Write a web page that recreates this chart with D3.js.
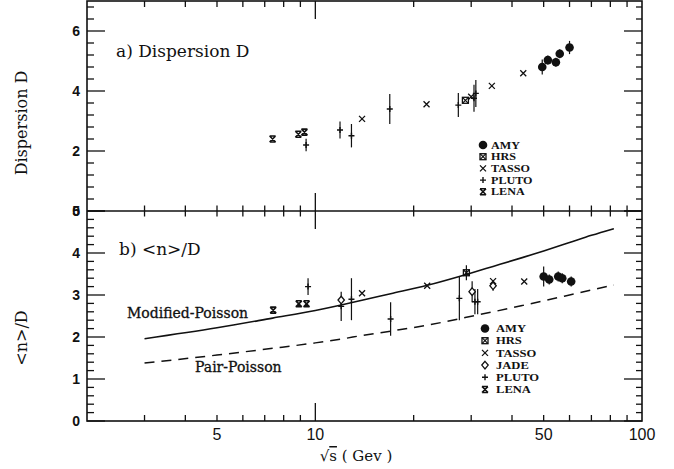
<!DOCTYPE html>
<html><head><meta charset="utf-8">
<script src="https://cdn.jsdelivr.net/npm/d3@7"></script>
<style>body{margin:0;background:#fff} svg{display:block}</style>
</head><body>
<svg id="chart" width="674" height="469"></svg>
<script>
// Each entry: [sqrt(s) in GeV, value, error]
// Panel a: dispersion D
const dispLENA  = [[7.4,2.40,0],[8.87,2.56,0],[9.26,2.63,0]];
const dispPLUTO = [[9.37,2.20,0.21],[11.9,2.70,0.28],[12.9,2.51,0.39],[16.9,3.40,0.50],[27.4,3.53,0.40],[30.6,3.76,0.45],[31.0,3.92,0.45]];
const dispTASSO = [[13.9,3.07,0],[21.9,3.56,0],[30.0,3.81,0],[34.7,4.17,0],[43.3,4.59,0]];
const dispHRS   = [[28.8,3.69,0]];
const dispAMY   = [[49.5,4.80,0.25],[51.5,5.03,0.15],[54.5,4.96,0.15],[56.0,5.24,0.15],[60.0,5.45,0.22]];

// Panel b: <n>/D
const ratioLENA  = [[7.43,2.64,0],[8.9,2.79,0],[9.4,2.79,0]];
const ratioPLUTO = [[9.5,3.20,0.20],[12.0,2.73,0.35],[12.9,2.90,0.50],[17.0,2.43,0.40],[27.6,2.92,0.52],[30.8,2.84,0.30],[31.4,2.84,0.30]];
const ratioJADE  = [[12.0,2.88,0],[30.2,3.08,0.25],[35.0,3.22,0.12]];
const ratioTASSO = [[13.9,3.04,0],[22.0,3.22,0],[35.0,3.33,0],[43.6,3.32,0]];
const ratioHRS   = [[29.0,3.53,0.18]];
const ratioAMY   = [[50,3.44,0.24],[52,3.37,0.12],[55.4,3.44,0.12],[57,3.40,0.12],[60.7,3.32,0.12]];

// Model curves for <n>/D: [sqrt(s), value]
const modifiedPoisson = [[3,1.96],[5,2.22],[7.4,2.45],[10,2.63],[12,2.76],[14,2.88],[17,3.03],[22,3.23],[29,3.49],[35,3.68],[43,3.89],[50,4.05],[60,4.25],[70,4.42],[82,4.58]];
const pairPoisson     = [[3,1.38],[5,1.57],[7.4,1.73],[10,1.86],[12,1.95],[14,2.04],[17,2.14],[22,2.28],[29,2.47],[35,2.60],[43,2.75],[50,2.86],[60,3.00],[70,3.12],[82,3.24]];

// Axis ticks and labels
const energyTicks  = [3,4,5,6,7,8,9,10,20,30,40,50,60,70,80,90];
const energyLabels = [5,10,50,100];
const dispLabels   = [0,2,4,6];
const ratioLabels  = [0,1,2,3,4,5];
const legendA = ["AMY","HRS","TASSO","PLUTO","LENA"];
const legendB = ["AMY","HRS","TASSO","JADE","PLUTO","LENA"];

const svg = d3.select("#chart");
const x  = d3.scaleLog().domain([2,100]).range([87,642]);
const yA = d3.scaleLinear().domain([0,7]).range([211,1]);
const yB = d3.scaleLinear().domain([0,5]).range([421,211]);
const ink = "#111";

// Frame
const frame = svg.append("g").attr("stroke", ink).attr("stroke-width", 1.6).attr("fill","none");
frame.append("rect").attr("x", x(2)).attr("y", yA(7)).attr("width", x(100)-x(2)).attr("height", yB(0)-yA(7));
frame.append("line").attr("x1", x(2)).attr("x2", x(100)).attr("y1", yA(0)).attr("y2", yA(0));

// Energy ticks: top edge, shared middle axis, bottom edge
const ticks = svg.append("g").attr("stroke", ink).attr("stroke-width", 1.3);
energyTicks.forEach(e => {
  const big = e === 10;
  const xx = x(e);
  ticks.append("line").attr("x1",xx).attr("x2",xx).attr("y1",yA(7)).attr("y2",yA(7)+(big?18:6));
  ticks.append("line").attr("x1",xx).attr("x2",xx).attr("y1",yA(0)-(big?18:5.5)).attr("y2",yA(0)+(big?18:5.5));
  ticks.append("line").attr("x1",xx).attr("x2",xx).attr("y1",yB(0)).attr("y2",yB(0)-(big?18:6));
});

// Vertical ticks on both sides
function vTicks(scale, maxV, majorStep, minorStep) {
  const n = Math.round(maxV/minorStep);
  for (let i = 0; i <= n; i++) {
    const v = i*minorStep;
    const major = Math.abs(v/majorStep - Math.round(v/majorStep)) < 1e-6;
    const yy = scale(v);
    ticks.append("line").attr("x1",x(2)).attr("x2",x(2)+(major?18:7)).attr("y1",yy).attr("y2",yy);
    ticks.append("line").attr("x1",x(100)).attr("x2",x(100)-(major?18:6)).attr("y1",yy).attr("y2",yy);
  }
}
vTicks(yA, 7, 2, 0.4);
vTicks(yB, 5, 1, 0.2);

// Tick labels
const tl = svg.append("g").attr("font-family","Liberation Sans, Arial, sans-serif").attr("fill", ink);
tl.selectAll(".la").data(dispLabels).join("text")
  .attr("x", 80).attr("y", d => yA(d)+5).attr("text-anchor","end")
  .attr("font-size", 14).attr("font-weight","bold").text(d => d);
tl.selectAll(".lb").data(ratioLabels).join("text")
  .attr("x", 80).attr("y", d => yB(d)+5).attr("text-anchor","end")
  .attr("font-size", 14).attr("font-weight","bold").text(d => d);
tl.selectAll(".lx").data(energyLabels).join("text")
  .attr("x", d => x(d)).attr("y", 440).attr("text-anchor","middle")
  .attr("font-size", 16).text(d => d);

// Axis titles
const serif = "DejaVu Serif, serif";
svg.append("text").attr("transform","translate(27,123) rotate(-90)").attr("text-anchor","middle")
  .attr("font-family", serif).attr("font-size", 16).attr("fill", ink).text("Dispersion D");
svg.append("text").attr("transform","translate(27,338) rotate(-90)").attr("text-anchor","middle")
  .attr("font-family", serif).attr("font-size", 16).attr("fill", ink).text("<n>/D");
const xt = svg.append("text").attr("x", 356).attr("y", 461).attr("text-anchor","middle")
  .attr("font-family", serif).attr("font-size", 15).attr("fill", ink);
xt.append("tspan").text("√");
xt.append("tspan").attr("text-decoration","overline").text("s");
xt.append("tspan").text(" ( Gev )");

// Panel titles
svg.append("text").attr("x",116).attr("y",57).attr("font-family",serif).attr("font-size",17).attr("fill",ink).text("a) Dispersion D");
svg.append("text").attr("x",119).attr("y",255).attr("font-family",serif).attr("font-size",17).attr("fill",ink).text("b) <n>/D");

// Model curves
const line = d3.line().x(d => x(d[0])).y(d => yB(d[1])).curve(d3.curveMonotoneX);
svg.append("path").datum(modifiedPoisson).attr("d", line).attr("fill","none").attr("stroke",ink).attr("stroke-width",1.6);
svg.append("path").datum(pairPoisson).attr("d", line).attr("fill","none").attr("stroke",ink).attr("stroke-width",1.5).attr("stroke-dasharray","10,7");
svg.append("text").attr("x",127).attr("y",318).attr("font-family",serif).attr("font-size",14).attr("fill",ink)
  .attr("stroke",ink).attr("stroke-width",0.3).text("Modified-Poisson");
svg.append("text").attr("x",195).attr("y",372).attr("font-family",serif).attr("font-size",14).attr("fill",ink)
  .attr("stroke",ink).attr("stroke-width",0.3).text("Pair-Poisson");

// Marker shapes
function marker(g, type, cx, cy) {
  const s = g.append("g").attr("transform", `translate(${cx},${cy})`).attr("stroke", ink).attr("fill","none");
  if (type === "AMY") {
    s.append("circle").attr("r", 4.3).attr("fill", ink).attr("stroke","none");
  } else if (type === "HRS") {
    s.append("rect").attr("x",-3).attr("y",-3).attr("width",6).attr("height",6).attr("stroke-width",1.3);
    s.append("path").attr("d","M-3,-3L3,3M-3,3L3,-3").attr("stroke-width",1.2);
  } else if (type === "TASSO") {
    s.append("path").attr("d","M-3,-3L3,3M-3,3L3,-3").attr("stroke-width",1.3);
  } else if (type === "JADE") {
    s.append("path").attr("d","M0,-3.8L3.2,0L0,3.8L-3.2,0Z").attr("stroke-width",1.3).attr("fill","#fff");
  } else if (type === "PLUTO") {
    s.append("path").attr("d","M-3,0L3,0M0,-3L0,3").attr("stroke-width",1.4);
  } else if (type === "LENA") {
    s.append("path").attr("d","M-3,-3L3,3M-3,3L3,-3M-3,-3L3,-3M-3,3L3,3").attr("stroke-width",1.6);
  }
}

function plotSeries(g, data, type, yScale) {
  data.forEach(d => {
    if (d[2] > 0) {
      g.append("line").attr("x1", x(d[0])).attr("x2", x(d[0]))
        .attr("y1", yScale(d[1]-d[2])).attr("y2", yScale(d[1]+d[2]))
        .attr("stroke", ink).attr("stroke-width", 1.2);
    }
    marker(g, type, x(d[0]), yScale(d[1]));
  });
}

const pa = svg.append("g");
plotSeries(pa, dispLENA, "LENA", yA);
plotSeries(pa, dispPLUTO, "PLUTO", yA);
plotSeries(pa, dispTASSO, "TASSO", yA);
plotSeries(pa, dispHRS, "HRS", yA);
plotSeries(pa, dispAMY, "AMY", yA);

const pb = svg.append("g");
plotSeries(pb, ratioLENA, "LENA", yB);
plotSeries(pb, ratioPLUTO, "PLUTO", yB);
plotSeries(pb, ratioJADE, "JADE", yB);
plotSeries(pb, ratioTASSO, "TASSO", yB);
plotSeries(pb, ratioHRS, "HRS", yB);
plotSeries(pb, ratioAMY, "AMY", yB);

// Legends: compact rows, text widened slightly so lines stay tight
function legend(names, mx, tx, y0, dy, fs) {
  const g = svg.append("g");
  names.forEach((n, i) => {
    const yy = y0 + i*dy;
    marker(g, n, mx, yy);
    g.append("text").attr("transform", `translate(${tx},${yy + fs*0.36}) scale(1.2,1)`)
      .attr("font-family","Liberation Serif, Times New Roman, serif")
      .attr("font-weight","bold").attr("font-size", fs).attr("fill", ink).text(n);
  });
}
legend(legendA, 483, 491, 145, 11.7, 10.1);
legend(legendB, 485, 496, 328.5, 12.2, 10.5);
</script>
</body></html>
